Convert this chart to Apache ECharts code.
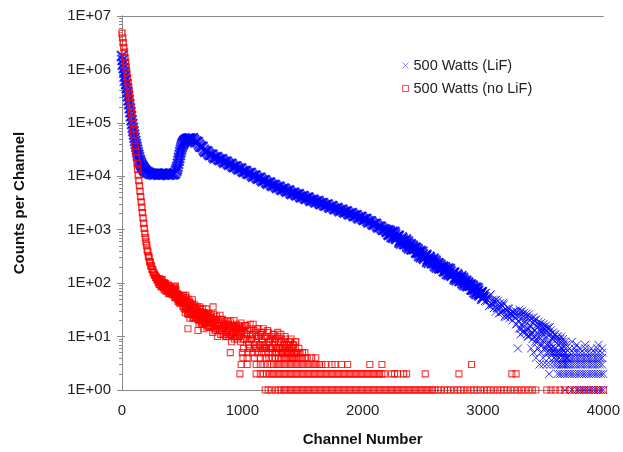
<!DOCTYPE html>
<html>
<head>
<meta charset="utf-8">
<script src="https://cdn.jsdelivr.net/npm/echarts@6/dist/echarts.min.js"></script>
<style>
html,body{margin:0;padding:0;background:#fff;}
#chart{width:623px;height:452px;}
</style>
</head>
<body>
<div id="chart"></div>
<script>
// ---------- DATA ----------
const seriesNames = ['500 Watts (LiF)', '500 Watts (no LiF)'];
const xTicks = [0, 1000, 2000, 3000, 4000];

// 500 Watts (LiF): [channel, counts]
const lifDecay = [[0,1780000],[10,1260000],[20,891000],[30,631000],[40,447000],[50,316000],[60,224000],[70,158000],[80,112000],[90,81300],[100,60300],[110,45700],[120,35500],[130,28200],[140,22900],[150,19100],[160,16600],[170,15000],[180,13800],[190,12900],[200,12300],
  [5,1500000],[15,1060000],[25,750000],[35,531000],[45,376000],[55,266000],[65,188000],[75,133000],[85,95500],[95,70000],[105,52500],[115,40300],[125,31600],[135,25400],[145,20700],[155,17700],[165,15800],[175,14400],[185,13300],[195,12600],[210,11900]];
const lifValley = [[220,11600],[240,11200],[260,10900],[280,11100],[300,10800],[320,11000],[340,10900],[360,11100],[380,10800],[400,11000],[420,10900],[440,11400],
  [230,11400],[250,11000],[270,10800],[290,11200],[310,10700],[330,11100],[350,10800],[370,11200],[390,10700],[410,11100],[430,10900]];
const lifPeak = [[450,12600],[460,15100],[470,19500],[480,25100],[490,31600],[500,38000],[510,42700],[520,45700],[530,47900],[540,49000],[550,50100],[560,50100],
  [455,13600],[465,17100],[475,22100],[485,28300],[495,35000],[505,40500],[515,44400],[525,46800],[535,48600],[545,49700],[555,50200],[565,50300],[570,50000]];
const lifSlope = [[580,49800],[600,47200],[620,44500],[640,39300],[660,35900],[680,31200],[700,29300],[720,26500],[740,25400],[760,23100],[780,22700],[800,21100],[820,20700],[840,19200],[860,18700],[880,17300],[900,16900],[920,15500],[940,15300],[960,14100],[980,13900],[1000,12700],[1020,12500],[1040,11500],[1060,11400],[1080,10500],[1100,10200],[1120,9400],[1140,9280],[1160,8560],[1180,8460],[1200,7640],[1220,7540],[1240,6960],[1260,6880],[1280,6350],[1300,6280],[1320,5800],[1340,5850],[1360,5410],[1380,5340],[1400,4930],[1420,4870],[1440,4600],[1460,4550],[1480,4200],[1500,4240],[1520,3910],[1540,3960],[1560,3660],[1580,3610],[1600,3410],[1620,3370],[1640,3180],[1660,3140],[1680,2900],[1700,2930],[1720,2700],[1740,2740],[1760,2530],[1780,2490],[1800,2360],[1820,2330],[1840,2200],[1860,2180],[1880,2010],[1900,2030],[1920,1880],[1940,1850],[1960,1710],[1980,1730],[2000,1590],[2020,1580],[2040,1450],[2060,1440],[2080,1300],[2100,1280],[2120,1180],[2140,1140],[2160,1050],[2180,1020]];
const lifSlopeB = [[590,51200],[610,43500],[630,43400],[650,36100],[670,35200],[690,28700],[710,28900],[730,25000],[750,25400],[770,21800],[790,22800],[810,20100],[830,20900],[850,18000],[870,18700],[890,16400],[910,17000],[930,14700],[950,15300],[970,13400],[990,14000],[1010,12000],[1030,12500],[1050,11000],[1070,11500],[1090,9830],[1110,10200],[1130,8970],[1150,9370],[1170,8090],[1190,8360],[1210,7290],[1230,7610],[1250,6570],[1270,6870],[1290,6060],[1310,6330],[1330,5530],[1350,5850],[1370,5160],[1390,5390],[1410,4650],[1430,4930],[1450,4390],[1470,4590],[1490,4010],[1510,4240],[1530,3780],[1550,3990],[1570,3460],[1590,3650],[1610,3250],[1630,3440],[1650,3010],[1670,3140],[1690,2800],[1710,2960],[1730,2580],[1750,2740],[1770,2410],[1790,2550],[1810,2230],[1830,2360],[1850,2100],[1870,2190],[1890,1920],[1910,2030],[1930,1790],[1950,1870],[1970,1630],[1990,1730],[2010,1520],[2030,1590],[2050,1370],[2070,1420],[2090,1240],[2110,1290],[2130,1100],[2150,1140],[2170,990],[2190,1000]];
const lifFall = [[2200,910],[2210,979],[2220,809],[2230,893],[2240,730],[2250,918],[2260,757],[2270,813],[2280,673],[2290,724],[2300,768],[2310,627],[2320,550],[2330,676],[2340,606],[2350,545],[2360,655],[2370,481],[2380,551],[2390,490],[2400,533],[2410,428],[2420,468],[2430,435],[2440,462],[2450,372],[2460,399],[2470,321],[2480,399],[2490,327],[2500,348],[2510,287],[2520,311],[2530,336],[2540,276],[2550,241],[2560,294],[2570,265],[2580,240],[2590,287],[2600,209],[2610,241],[2620,216],[2630,235],[2640,189],[2650,205],[2660,190],[2670,204],[2680,167],[2690,184],[2700,150],[2710,188],[2720,155],[2730,166],[2740,137],[2750,148],[2760,158],[2770,129],[2780,114],[2790,138],[2800,124],[2810,112],[2820,135],[2830,99],[2840,113],[2850,101],[2860,111],[2870,88],[2880,97],[2890,89],[2900,94],[2910,76],[2920,83],[2930,67],[2940,83],[2950,68],[2960,72],[2970,59],[2980,63],[2990,68],[3000,55]];
const lifFallB = [[2205,936],[2215,810],[2225,955],[2235,823],[2245,867],[2255,706],[2265,901],[2275,705],[2285,732],[2295,758],[2305,576],[2315,618],[2325,712],[2335,622],[2345,537],[2355,610],[2365,534],[2375,604],[2385,449],[2395,515],[2405,439],[2415,503],[2425,442],[2435,444],[2445,377],[2455,433],[2465,365],[2475,378],[2485,305],[2495,387],[2505,301],[2515,313],[2525,328],[2535,252],[2545,271],[2555,311],[2565,271],[2575,235],[2585,268],[2595,233],[2605,263],[2615,196],[2625,227],[2635,193],[2645,221],[2655,193],[2665,194],[2675,167],[2685,196],[2695,169],[2705,177],[2715,144],[2725,184],[2735,143],[2745,148],[2755,155],[2765,119],[2775,127],[2785,146],[2795,128],[2805,110],[2815,125],[2825,110],[2835,124],[2845,92],[2855,106],[2865,91],[2875,103],[2885,91],[2895,90],[2905,76],[2915,89],[2925,75],[2935,78],[2945,63],[2955,80],[2965,62],[2975,64],[2985,66],[2995,51]];
const lifTail = [[3010,56],[3020,66],[3030,45],[3040,55],[3050,37],[3060,60],[3070,42],[3080,49],[3090,34],[3100,42],[3110,49],[3120,34],[3130,27],[3140,42],[3150,35],[3160,29],[3170,43],[3180,24],[3190,33],[3200,27],[3210,34],[3220,22],[3230,28],[3240,25],[3250,29],[3260,23],[3270,30],[3280,17],[3290,24],[3300,14],[3310,29],[3320,17],[3330,23],[3340,13],[3350,19],[3360,24],[3370,14],[3380,10],[3390,20],[3400,15],[3410,12],[3420,23],[3430,10],[3440,16],[3450,12],[3460,17],[3470,9],[3480,13],[3490,11],[3500,15],[3510,9],[3520,12],[3530,7],[3540,14],[3550,8],[3560,11],[3570,6],[3580,9],[3590,11],[3600,6],[3610,5],[3620,9],[3630,7],[3640,5],[3650,10],[3660,4],[3670,7],[3680,5],[3690,7],[3700,4],
  [3005,62],[3015,46],[3025,66],[3035,49],[3045,55],[3055,38],[3065,62],[3075,39],[3085,43],[3095,48],[3105,29],[3115,34],[3125,47],[3135,38],[3145,28],[3155,38],[3165,30],[3175,40],[3185,23],[3195,31],[3205,24],[3215,33],[3225,26],[3235,27],[3245,20],[3255,29],
  [3265,26],[3275,17],[3285,29],[3295,20],[3305,24],[3315,14],[3325,30],[3335,15],[3345,18],[3355,22],[3365,11],[3375,14],[3385,23],[3395,16],[3405,11],[3415,18],[3425,13],[3435,20],[3445,9],[3455,15],[3465,10],[3475,16],[3485,12],[3495,13],[3505,8],[3515,14],[3525,10],[3535,12],[3545,7],[3555,15],[3565,7],[3575,9],[3585,10],[3595,5],[3605,6],[3615,10],[3625,8],[3635,5],[3645,8],[3655,6],[3665,9],[3675,4],[3685,6],[3695,4],
  [3302,32],[3312,11],[3322,26],[3332,12],[3342,28],[3352,12],[3362,27],[3372,10],[3382,26],[3392,11],[3402,22],[3412,9],[3422,20],[3432,8],[3442,21],[3452,8],[3462,19],[3472,7],[3482,18],[3492,7],[3502,17],[3512,6],[3522,16],[3532,6],[3542,15],[3552,5],[3562,13],[3572,5],[3582,12],[3592,4],[3602,11],[3612,4],[3622,10],[3632,4],[3642,9],[3652,3],[3662,8],[3672,3],[3682,8],[3692,3],
  [3740,8],[3780,7],[3850,7],[3960,7]];
const lifLevel1 = [3680,3740,3780,3800,3820,3840,3860,3880,3900,3920,3940,3960,3980,4000];
const lifLevel2 = [3550,3620,3640,3660,3680,3700,3720,3740,3760,3780,3800,3820,3840,3860,3880,3900,3920,3940,3960,3980,4000];
const lifLevel3 = [3470,3500,3530,3560,3590,3610,3630,3650,3670,3690,3710,3730,3750,3770,3790,3810,3830,3850,3870,3890,3910,3930,3950,3970,3990];
const lifLevel4 = [3440,3500,3550,3590,3630,3660,3690,3710,3730,3750,3770,3790,3810,3830,3850,3870,3890,3910,3930,3950,3970,3990];
const lifLevel5 = [3420,3480,3530,3580,3620,3660,3690,3720,3750,3780,3810,3840,3870,3900,3930,3960,3990];
const lifLevel6 = [3290,3400,3460,3560,3650,3720,3760,3800,3850,3900,3950,3990];

// 500 Watts (no LiF): [channel, counts]
const noLifDecay = [[0,4790000],[5,3890000],[10,3160000],[15,2570000],[20,2090000],[25,1660000],[30,1350000],[35,1070000],[40,871000],[45,708000],[50,562000],[55,457000],[60,363000],[65,295000],[70,240000],[75,191000],[80,155000],[85,123000],[90,97700],[95,75900],[100,60300],[105,46800],[110,36300],[115,28500],[120,22400],[125,17400],[130,13500],[135,10500],[140,8320],[145,6610],[150,5250],[155,4170],[160,3310],[165,2630],[170,2090],[175,1660],[180,1320],[185,1060],[190,851],[195,708],[200,589],[205,512],[210,418],[215,384],[220,322],[225,301],[230,256],[235,246],[240,212],[245,208],[250,181],[255,178],[260,158],[265,156],[270,141],[275,141],[280,128],[285,129],[290,117],[295,118],[300,106]];
const noLifCloud = [[305,108],[310,120],[315,95],[320,108],[325,86],[330,115],[335,92],[340,102],[345,82],[350,93],[355,101],[360,81],[365,71],[370,90],[375,81],[380,73],[385,92],[390,65],[395,79],[400,71],[405,81],[410,63],[415,72],[420,68],[425,76],[430,60],[435,85],[440,54],[445,88],[450,58],[455,63],[460,51],[465,57],[470,61],[475,48],[480,42],[485,54],[490,48],[495,44],[500,55],
  [505,45],[510,59],[515,34],[520,48],[525,28],[530,59],[535,35],[540,47],[545,27],[548,14],[550,39],[555,50],[560,29],[565,22],[570,42],[575,33],[580,26],[585,49],[590,22],[595,35],[600,28],[605,39],[610,22],[615,31],[620,27],[625,36],[630,21],[632,13],[635,29],[640,17],[645,36],[650,22],[655,29],[660,17],[665,25],[670,33],[675,19],[680,14],[685,28],[690,22],[695,18],[700,33],[705,15],[710,24],[715,19],[720,27],[725,15],[730,22],[735,19],[740,25],[745,15],[750,21],[755,12],[757,36],[760,26],[765,16],[770,21],[775,13],[780,18],[785,24],[790,14],[795,10],[800,20],[805,16],[810,13],[815,25],[820,11],[825,18],[830,14],[835,21],[840,11],[845,16],[850,15],[855,19],[860,11],[865,16],[870,10],[875,20],[880,12],[885,17],[890,10],[895,14],[900,19],[905,11],[910,8],[915,16],[920,13],[925,10],[930,20],[935,9],[940,15],[945,12],[950,17],[955,9],[960,14],[965,12],[970,16],[975,10],[980,14],[985,8],[990,18],[995,11],[1000,15],
  [1005,13],[1010,9],[1015,9],[1020,12],[1025,16],[1030,16],[1035,11],[1040,9],[1045,13],[1050,7],[1055,8],[1060,14],[1065,17],[1070,11],[1075,9],[1080,9],[1085,11],[1090,17],[1095,13],[1100,7],[1105,6],[1110,12],[1115,8],[1120,10],[1125,14],[1130,14],[1135,10],[1140,7],[1145,7],[1150,11],[1155,12],[1160,9],[1165,8],[1170,12],[1175,14],[1180,7],[1185,6],[1190,10],[1195,10],[1200,6],[1205,7],[1210,13],[1215,12],[1220,8],[1225,8],[1230,10],[1235,9],[1240,6],[1245,6],[1250,9],[1255,11],[1260,11],[1265,8],[1270,7],[1275,9],[1280,5],[1285,6],[1290,10],[1295,12],[1300,8],[1305,6],[1310,6],[1315,8],[1320,11],[1325,9],[1330,5],[1335,5],[1340,8],[1345,6],[1350,7],[1355,10],[1360,9],[1365,7],[1370,5],[1375,5],[1380,7],[1385,8],[1390,6],[1395,6],[1400,8],[1405,9],[1410,5],[1415,4],[1420,7],[1425,7],[1430,4],[1435,5],[1440,8],[1445,8],[1450,5]];
const noLifCloudB = [[302,114],[307,96],[312,120],[317,101],[322,108],[327,86],[332,116],[337,88],[342,94],[347,100],[352,75],[357,82],[362,98],[367,85],[372,72],[377,86],[382,74],[387,89],[392,64],[397,77],[402,65],[407,80],[412,70],[417,72],[422,61],[427,76],[432,64],[437,80],[442,54],[447,73],[452,55],[457,58],[462,62],[467,45],[472,49],[477,58],[482,51],[487,43],[492,52],[497,45],
  [502,49],[507,37],[512,54],[517,41],[522,47],[527,32],[532,54],[537,34],[542,38],[547,43],[552,26],[557,32],[562,44],[567,35],[572,27],[577,37],[582,30],[587,40],[592,23],[597,32],[602,25],[607,35],[612,28],[617,29],[622,23],[627,33],[632,25],[637,28],[642,20],[647,33],[652,21],[657,24],[662,27],[667,17],[672,20],[677,28],[682,23],[687,18],[692,25],[697,20],
  [702,27],[712,16],[722,22],[732,16],[742,23],[752,18],[762,19],[772,14],[782,21],[792,16],[802,18],[812,13],[822,21],[832,13],[842,15],[852,17],[862,10],[872,12],[882,17],[892,14],[902,11],[912,15],[922,12],[932,16],[942,10],[952,14],[962,10],[972,15],[982,12],[992,13]];
const noLifLevel1 = [1190,1215,1240,1275,1300,1320,1345,1360,1380,1400,1420,1440,1460,1480,1500,1520,1540,1560,1580,1600,1620,1640,1660,1680,1700,1720,1740,1760,1780,1800,1820,1840,1860,1880,1900,1920,1940,1960,1980,2000,2020,2040,2060,2080,2100,2120,2140,2160,2180,2200,2220,2240,2260,2280,2300,2320,2340,2360,2380,2400,2420,2440,2460,2480,2500,2520,2540,2560,2580,2600,2625,2650,2680,2705,2730,2760,2790,2815,2840,2870,2900,2925,2950,2980,3010,3035,3060,3090,3120,3150,3175,3200,3230,3260,3290,3320,3350,3380,3410,3440,3530,3565,3600,3640,3680,3720,3760,3800,3840,3880,3920,3960,4000];
const noLifLevel2 = [980,1115,1150,1175,1200,1220,1240,1260,1280,1300,1320,1340,1360,1380,1400,1420,1440,1460,1480,1500,1520,1540,1560,1580,1600,1620,1640,1660,1680,1700,1720,1740,1760,1780,1800,1820,1840,1860,1880,1900,1920,1940,1960,1980,2000,2020,2040,2060,2080,2100,2120,2140,2160,2180,2240,2265,2290,2340,2365,2520,2800,3240,3275];
const noLifLevel3 = [990,1040,1115,1150,1180,1210,1240,1260,1280,1300,1320,1340,1360,1380,1400,1420,1440,1460,1480,1500,1520,1540,1560,1580,1600,1620,1640,1660,1690,1745,1770,1825,1875,2060,2160,2905];
const noLifLevel4 = [1005,1040,1100,1150,1190,1220,1250,1275,1300,1320,1340,1360,1380,1400,1420,1440,1460,1480,1500,1520,1540,1575,1610];
const noLifLevel5 = [900,1000,1045,1085,1125,1160,1190,1220,1250,1280,1300,1320,1340,1360,1380,1400,1420,1440,1460,1480,1500,1520];
const noLifLevel6 = [1010,1060,1120,1170,1230,1280,1330,1370,1410,1440,1470];

// ---------- BUILD ----------
function levelPoints(channels, count) { return channels.map(c => [c, count]); }

// dense part of the LiF spectrum (solid band) and the sparse noisy tail
const lifDense = [].concat(lifDecay, lifValley, lifPeak, lifSlope, lifSlopeB, lifFall, lifFallB);
const lifSparse = [].concat(lifTail,
  levelPoints(lifLevel1, 1), levelPoints(lifLevel2, 2), levelPoints(lifLevel3, 3),
  levelPoints(lifLevel4, 4), levelPoints(lifLevel5, 5), levelPoints(lifLevel6, 6));
const noLifDense = [].concat(noLifDecay, noLifCloudB);
const noLifSparse = [].concat(noLifCloud,
  levelPoints(noLifLevel1, 1), levelPoints(noLifLevel2, 2), levelPoints(noLifLevel3, 3),
  levelPoints(noLifLevel4, 4), levelPoints(noLifLevel5, 5), levelPoints(noLifLevel6, 6));

const crossPath = 'path://M0,0L10,10M10,0L0,10';
const FONT = "'Liberation Sans', Arial, sans-serif";
const AXIS_GRAY = '#8a8a8a';
const BLUE = '#0000ff', RED = '#ff0000';

// minor tick positions for log decades (in log10 space)
const minorTicks = [];
for (let d = 0; d < 7; d++) for (let k = 2; k <= 9; k++) minorTicks.push(d + Math.log10(k));

const blueStyle = w => ({ color: 'rgba(0,0,0,0)', borderColor: BLUE, borderWidth: w });
const redStyle = w => ({ color: 'rgba(0,0,0,0)', borderColor: RED, borderWidth: w });

const chart = echarts.init(document.getElementById('chart'), null, { renderer: 'canvas' });
chart.setOption({
  animation: false,
  backgroundColor: '#ffffff',
  grid: { left: 122, right: 19, top: 16, bottom: 60, containLabel: false },
  legend: {
    orient: 'vertical', left: 397, top: 53, itemWidth: 6, itemHeight: 6, itemGap: 8,
    textStyle: { fontFamily: FONT, fontSize: 14.5, color: '#222' },
    data: [
      { name: seriesNames[0], icon: crossPath, itemStyle: { color: 'rgba(0,0,0,0)', borderColor: '#7070ff', borderWidth: 1 } },
      { name: seriesNames[1], icon: 'rect', itemStyle: { color: 'rgba(0,0,0,0)', borderColor: '#ff2020', borderWidth: 1 } }
    ]
  },
  xAxis: [{
    type: 'value', min: xTicks[0], max: xTicks[xTicks.length - 1], interval: 1000,
    name: 'Channel Number', nameLocation: 'middle', nameGap: 42,
    nameTextStyle: { fontFamily: FONT, fontSize: 15, fontWeight: 'bold', color: '#111' },
    axisLine: { show: true, lineStyle: { color: AXIS_GRAY, width: 1 } },
    axisTick: { show: false },
    axisLabel: { fontFamily: FONT, fontSize: 15, color: '#222', margin: 13, formatter: v => String(v) },
    splitLine: { show: false }
  }, {
    type: 'value', position: 'top', min: 0, max: 4000,
    axisLine: { show: true, lineStyle: { color: AXIS_GRAY, width: 1 } },
    axisTick: { show: false }, axisLabel: { show: false }, splitLine: { show: false }
  }],
  yAxis: [{
    type: 'log', logBase: 10, min: 1, max: 10000000,
    name: 'Counts per Channel', nameLocation: 'middle', nameGap: 95, nameRotate: 90,
    nameTextStyle: { fontFamily: FONT, fontSize: 15, fontWeight: 'bold', color: '#111' },
    axisLine: { show: true, lineStyle: { color: AXIS_GRAY, width: 1 } },
    axisTick: { show: true, length: 5, lineStyle: { color: AXIS_GRAY } },
    axisLabel: {
      fontFamily: FONT, fontSize: 15, color: '#222', margin: 11,
      formatter: v => '1E+' + String(Math.round(Math.log10(v))).padStart(2, '0')
    },
    splitLine: { show: false }
  }, {
    type: 'log', logBase: 10, min: 1, max: 10000000, position: 'right',
    axisLine: { show: true, lineStyle: { color: AXIS_GRAY, width: 1 } },
    axisTick: { show: true, length: 3, lineStyle: { color: AXIS_GRAY } },
    axisLabel: { show: false }, splitLine: { show: false }
  }, {
    type: 'value', min: 0, max: 7, position: 'left',
    axisLine: { show: false },
    axisTick: { show: true, length: 3, customValues: minorTicks, lineStyle: { color: AXIS_GRAY } },
    axisLabel: { show: false }, splitLine: { show: false }
  }],
  series: [{
    name: seriesNames[0], type: 'scatter', xAxisIndex: 0, yAxisIndex: 0,
    symbol: crossPath, symbolSize: 10, itemStyle: blueStyle(2.2),
    data: lifDense, z: 2
  }, {
    name: seriesNames[0], type: 'scatter', xAxisIndex: 0, yAxisIndex: 0,
    symbol: crossPath, symbolSize: 8, itemStyle: blueStyle(1),
    data: lifSparse, z: 2
  }, {
    name: seriesNames[1], type: 'scatter', xAxisIndex: 0, yAxisIndex: 0,
    symbol: 'rect', symbolSize: 6, itemStyle: redStyle(1.4),
    data: noLifDense, z: 3
  }, {
    name: seriesNames[1], type: 'scatter', xAxisIndex: 0, yAxisIndex: 0,
    symbol: 'rect', symbolSize: 6, itemStyle: redStyle(1.1),
    data: noLifSparse, z: 3
  }]
});
</script>
</body>
</html>
